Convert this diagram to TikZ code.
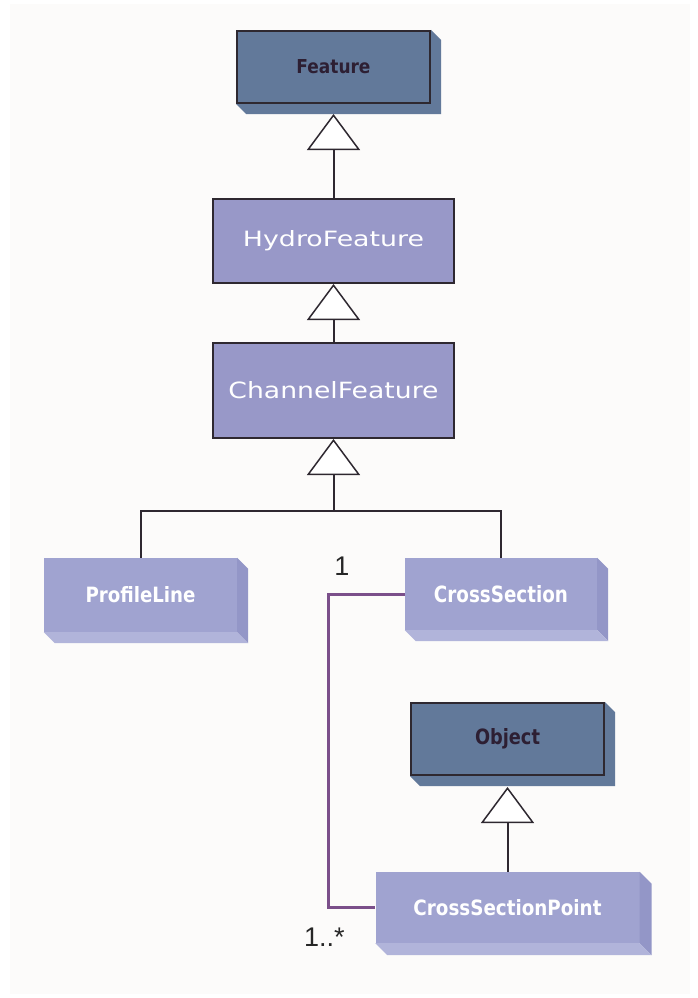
\documentclass[tikz,border=0pt]{standalone}
\usepackage{fontspec}
\setmainfont{Liberation Sans}
\newfontfamily\pixfont{DejaVu Sans}
\usetikzlibrary{arrows.meta}
\definecolor{bgcol}{HTML}{FCFBFA}
\definecolor{slate}{HTML}{62799A}
\definecolor{slatetext}{HTML}{2D1F33}
\definecolor{lav}{HTML}{9898C8}
\definecolor{slabfront}{HTML}{A0A3D0}
\definecolor{slabside}{HTML}{9396C7}
\definecolor{slabbottom}{HTML}{B1B4DA}
\definecolor{edge}{HTML}{2E2830}
\definecolor{assoccol}{HTML}{7B4F8A}
\newcommand{\fittext}[3]{\resizebox{#1pt}{#2pt}{#3}}
\newcommand{\slabextrude}[2]{%
  \fill[slabside] (#1.north east) -- ([xshift=#2pt,yshift=-#2pt]#1.north east) -- ([xshift=#2pt,yshift=-#2pt]#1.south east) -- (#1.south east) -- cycle;
  \fill[slabbottom] (#1.south west) -- ([xshift=#2pt,yshift=-#2pt]#1.south west) -- ([xshift=#2pt,yshift=-#2pt]#1.south east) -- (#1.south east) -- cycle;}
\newcommand{\slateshadow}[2]{%
  \fill[slate] (#1.north east) -- ([xshift=#2pt,yshift=-#2pt]#1.north east) -- ([xshift=#2pt,yshift=-#2pt]#1.south east) -- ([xshift=#2pt,yshift=-#2pt]#1.south west) -- (#1.south west) -- cycle;}
\begin{document}
\begin{tikzpicture}[x=1pt,y=-1pt,
  slatebox/.style={draw=edge, line width=2pt, fill=slate, text=slatetext, inner sep=0pt, font=\pixfont\bfseries},
  lavbox/.style={draw=edge, line width=2pt, fill=lav, text=white, inner sep=0pt, font=\pixfont},
  slabbox/.style={fill=slabfront, text=white, inner sep=0pt, font=\pixfont\bfseries},
  gen/.style={draw=edge, line width=2pt, -{Triangle[open, fill=white, length=36pt, width=53pt, line width=1.5pt]}},
  genline/.style={draw=edge, line width=2pt},
  assoc/.style={draw=assoccol, line width=3pt},
  mult/.style={font=\fontsize{27}{27}\selectfont, text=black!85, inner sep=0pt}]
\fill[white] (0,0) rectangle (698,998);
\fill[bgcol] (10,4) rectangle (690,994);
\useasboundingbox (0,0) rectangle (698,998);

% Feature
\node[slatebox, minimum width=193pt, minimum height=72pt] (feature) at (333.5,67) {};
\slateshadow{feature}{10}
\node[slatebox, minimum width=193pt, minimum height=72pt] (feature) at (333.5,67) {\fittext{74}{14}{Feature}};

% HydroFeature, ChannelFeature
\node[lavbox, minimum width=241pt, minimum height=84pt] (hydro) at (333.5,241) {\fittext{181}{16}{HydroFeature}};
\node[lavbox, minimum width=241pt, minimum height=95pt] (channel) at (333.5,390.5) {\fittext{210}{17}{ChannelFeature}};

% slabs
\node[slabbox, minimum width=193pt, minimum height=74pt] (profile) at (140.5,595) {\fittext{110}{16}{ProfileLine}};
\slabextrude{profile}{11}
\node[slabbox, minimum width=192pt, minimum height=72pt] (cross) at (501,594) {\fittext{134}{17}{CrossSection}};
\slabextrude{cross}{11}
\node[slabbox, minimum width=264pt, minimum height=71pt] (csp) at (507.5,907.5) {\fittext{188}{16}{CrossSectionPoint}};
\slabextrude{csp}{12}

% Object
\node[slatebox, minimum width=193pt, minimum height=72pt] (object) at (507.5,739) {};
\slateshadow{object}{10}
\node[slatebox, minimum width=193pt, minimum height=72pt] (object) at (507.5,739) {\fittext{65}{16}{Object}};

% generalizations
\draw[gen] (hydro.north) -- ([yshift=-10pt]feature.south);
\draw[gen] (channel.north) -- (hydro.south);
\coordinate (join) at (333.5,511);
\draw[genline] (profile.north) |- (join);
\draw[genline] (cross.north) |- (join);
\draw[gen] (join) -- (channel.south);
\draw[gen] (csp.north) -- ([yshift=-11pt]object.south);

% association
\coordinate (elbowx) at (328,0);
\draw[assoc] (cross.west) -- (cross.west -| elbowx) |- (csp.west);
\node[mult] (m1) at (342,566) {1};
\node[mult, anchor=base west] (m2) at (304,946) {1..*};
\end{tikzpicture}
\end{document}
